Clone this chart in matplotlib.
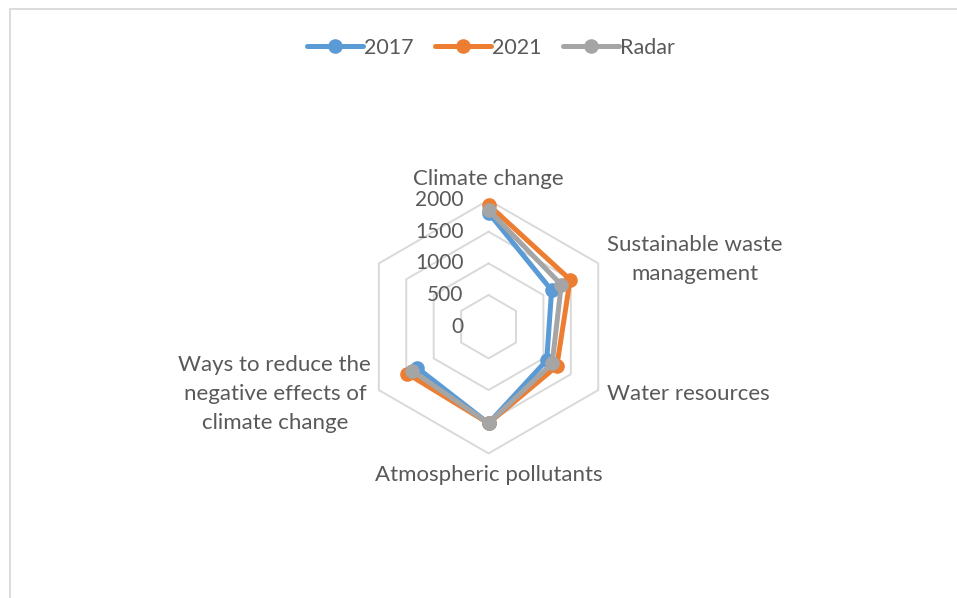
# Radar chart of topic counts, 2017 vs 2021 (plus the "Radar" series).

import numpy as np
import matplotlib.pyplot as plt
from matplotlib.patches import Rectangle

plt.rcParams['font.family'] = ['Lato', 'DejaVu Sans']

# Data (upper-left spoke has no label and no values).
categories = ['Climate change', 'Sustainable waste\nmanagement', 'Water resources',
              'Atmospheric pollutants', 'Ways to reduce the\nnegative effects of\nclimate change', '']
values_2017 = [1800, 1150, 1060, 1525, 1300, np.nan]
values_2021 = [1925, 1487, 1245, 1525, 1481, np.nan]
values_radar = [1843, 1326, 1160, 1525, 1392, np.nan]
ticks = [0, 500, 1000, 1500, 2000]

text_color = '#595959'
grid_color = '#D9D9D9'

fig = plt.figure(figsize=(9.57, 5.98), dpi=100)

# Light border of the chart area (cropped on the right and bottom).
fig.patches.append(Rectangle((9.5 / 957, -0.2), 1.2, 1.2 - 8.5 / 598, transform=fig.transFigure,
                             fill=False, edgecolor=grid_color, lw=1.3, clip_on=False))

ax = fig.add_axes([0.3781, 0.2418, 0.2648, 0.4237], projection='polar')
ax.set_theta_offset(np.pi / 2)
ax.set_theta_direction(-1)
ax.set_facecolor('none')

n = len(categories)
angles = np.arange(n) * 2 * np.pi / n

# Hexagonal gridlines
for v in ticks[1:]:
    ax.plot(np.append(angles, angles[0]), [v] * (n + 1), color=grid_color, lw=1.4,
            zorder=0, clip_on=False)

series = [('2017', values_2017, '#5B9BD5'),
          ('2021', values_2021, '#ED7D31'),
          ('Radar', values_radar, '#A5A5A5')]
handles = []
for name, vals, col in series:
    h, = ax.plot(angles, vals, color=col, lw=3.6, marker='o', markersize=9.5,
                 label=name, solid_capstyle='round', clip_on=False)
    handles.append(h)

ax.set_ylim(0, 2000)
ax.set_xticks([])
ax.set_yticks([])
ax.grid(False)
ax.spines['polar'].set_visible(False)

# Axis value labels along the top spoke
for v in ticks:
    ax.annotate(str(v), (0, v), xytext=(-18, 0), textcoords='offset points',
                ha='right', va='center', fontsize=15, color=text_color)

# Category labels
label_pos = [((0, 8), 'center', 'bottom'),
             ((6.5, 3), 'left', 'center'),
             ((6.5, -3), 'left', 'center'),
             ((0, -8), 'center', 'top'),
             ((-5.5, -3), 'right', 'center')]
for i, (off, ha, va) in enumerate(label_pos):
    ax.annotate(categories[i], (angles[i], 2000), xytext=off, textcoords='offset points',
                ha=ha, va=va, multialignment='center', fontsize=16, color=text_color,
                linespacing=1.55, annotation_clip=False)

fig.legend(handles=handles, loc='center', bbox_to_anchor=(0.513, 0.92), ncol=3,
           frameon=False, fontsize=15.5, labelcolor=text_color, handlelength=2.6,
           handletextpad=0.05, columnspacing=1.0)

fig.savefig('out.png', dpi=100)
